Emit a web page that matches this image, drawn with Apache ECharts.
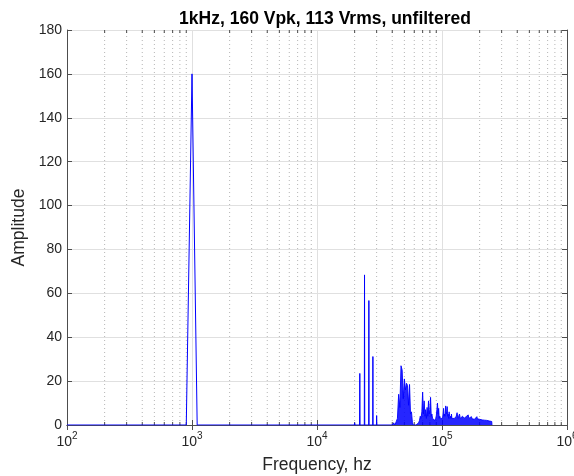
<!DOCTYPE html>
<html>
<head>
<meta charset="utf-8">
<script src="https://cdn.jsdelivr.net/npm/echarts@6/dist/echarts.min.js"></script>
<style>
html,body{margin:0;padding:0;background:#fff;overflow:hidden;}
#chart{width:574px;height:476px;}
</style>
</head>
<body>
<div id="chart"></div>
<script>
// ---- data ----
const titleText = '1kHz, 160 Vpk, 113 Vrms, unfiltered';
const xName = 'Frequency, hz';
const yName = 'Amplitude';
const xMin = 100, xMax = 1000000;
const yMin = 0, yMax = 180, yStep = 20;
const minorMultipliers = [2, 3, 4, 5, 6, 7, 8, 9];
const decades = [100, 1000, 10000, 100000];

const binHz = 100;              // FFT bin width
const startHz = 100;
// fundamental
const fundFreqs = [900, 1000, 1100];
const fundAmps  = [0, 160, 0];
// first carrier group (isolated spikes)
const sb1Freqs = [20000, 22000, 24000, 26000, 28000, 30000];
const sb1Amps  = [1, 23.5, 68.4, 56.7, 31.2, 4.3];
// dense high-frequency region, 1 kHz bins from 40 kHz to 125 kHz
const hfAStartK = 40, hfAStepK = 1;
const hfAmpsA = [
  0, 1, 0, 1.5, 3, 14, 8, 27, 25, 12,
  21, 16, 19, 18, 9, 18.5, 5, 6, 1, 0,
  0, 0, 0, 0, 0, 1, 2, 4, 3, 6,
  15, 5, 11, 4, 7, 3, 8, 4, 11, 5,
  7, 12.6, 4, 5, 3, 3.8, 3, 3.8, 2, 3,
  4, 7, 10, 5, 7.6, 3, 4, 3, 2.5, 3,
  2.5, 3, 5, 7.6, 4, 5, 4, 8.7, 5, 6,
  8.4, 4, 5, 3, 6, 4, 3, 4, 3, 5,
  3, 3, 2.5, 3.8, 2.5, 2.5
];
// 2 kHz bins from 126 kHz to 250 kHz
const hfBStartK = 126, hfBStepK = 2;
const hfAmpsB = [
  3, 2.5, 4, 5.6, 3, 4, 5, 3, 3.5, 2.5,
  4, 4.6, 3, 3.5, 2.5, 3.8, 3, 4, 4.6, 3,
  3.4, 2.6, 3.5, 3.8, 2.8, 3.3, 2.5, 3.4, 2.6, 3.2,
  3.5, 2.6, 3.8, 2.8, 3, 2.4, 3.2, 2.6, 2.9, 2.2,
  2.8, 3, 2.3, 2.6, 2.1, 2.7, 2.2, 2.5, 2, 2.4,
  2.6, 2.1, 2.4, 1.9, 2.3, 2, 2.2, 1.8, 2.1, 2.3,
  1.9, 2, 1.6
];
const endHz = 251000;

// ---- build series data ----
const mainData = [[startHz, 0]];
fundFreqs.forEach((f, i) => mainData.push([f, fundAmps[i]]));
sb1Freqs.forEach((f, i) => {
  mainData.push([f - binHz, 0]);
  mainData.push([f, sb1Amps[i]]);
  mainData.push([f + binHz, 0]);
});
mainData.push([hfAStartK * 1000, 0]);

const hfData = [];
hfAmpsA.forEach((a, i) => hfData.push([(hfAStartK + i * hfAStepK) * 1000, a]));
hfAmpsB.forEach((a, i) => hfData.push([(hfBStartK + i * hfBStepK) * 1000, a]));
hfData.push([endHz, 0]);

const minorData = [];
decades.forEach(d => minorMultipliers.forEach(m => minorData.push([d * m, 0])));

// ---- styles ----
const FONT = 'Liberation Sans, Arial, Helvetica, sans-serif';
const axisColor = '#4d4d4d';
const textColor = '#262626';
const gridColor = '#e0e0e0';
const lineBlue = '#0000ff';

const chart = echarts.init(document.getElementById('chart'), null, {renderer: 'canvas'});

const supFormatter = v => {
  const e = Math.round(Math.log10(v));
  return '{b|10}{e|' + e + '}';
};

const option = {
  animation: false,
  backgroundColor: '#fff',
  title: {
    text: titleText,
    left: 320, top: 5, textAlign: 'center',
    textStyle: {fontFamily: FONT, fontSize: 17.5, fontWeight: 'bold', color: '#000'}
  },
  grid: {left: 67, right: 7, top: 30, bottom: 51, containLabel: false, outerBoundsMode: 'none'},
  xAxis: [
    {
      type: 'log', logBase: 10, min: xMin, max: xMax, position: 'bottom',
      name: xName, nameLocation: 'middle', nameGap: 31,
      nameTextStyle: {fontFamily: FONT, fontSize: 17.5, color: textColor},
      axisLine: {show: true, lineStyle: {color: axisColor, width: 1}},
      axisTick: {show: true, inside: true, length: 5, lineStyle: {color: axisColor}},
      splitLine: {show: true, lineStyle: {color: gridColor, width: 1}},
      axisLabel: {
        margin: 6, formatter: supFormatter, hideOverlap: false,
        rich: {
          b: {fontFamily: FONT, fontSize: 14, color: textColor, lineHeight: 18, verticalAlign: 'bottom'},
          e: {fontFamily: FONT, fontSize: 10, color: textColor, lineHeight: 18, verticalAlign: 'top'}
        }
      }
    },
    {
      type: 'log', logBase: 10, min: xMin, max: xMax, position: 'top',
      axisLine: {show: true, lineStyle: {color: axisColor, width: 1}},
      axisTick: {show: true, inside: true, length: 5, lineStyle: {color: axisColor}},
      splitLine: {show: false}, axisLabel: {show: false}
    }
  ],
  yAxis: [
    {
      type: 'value', min: yMin, max: yMax, interval: yStep, position: 'left',
      name: yName, nameLocation: 'middle', nameGap: 30, nameRotate: 90,
      nameTextStyle: {fontFamily: FONT, fontSize: 17.5, color: textColor},
      axisLine: {show: true, lineStyle: {color: axisColor, width: 1}},
      axisTick: {show: true, inside: true, length: 5, lineStyle: {color: axisColor}},
      splitLine: {show: true, lineStyle: {color: gridColor, width: 1}},
      axisLabel: {margin: 5, fontFamily: FONT, fontSize: 14, color: textColor}
    },
    {
      type: 'value', min: yMin, max: yMax, interval: yStep, position: 'right',
      axisLine: {show: true, lineStyle: {color: axisColor, width: 1}},
      axisTick: {show: true, inside: true, length: 5, lineStyle: {color: axisColor}},
      splitLine: {show: false}, axisLabel: {show: false}
    }
  ],
  series: [
    {
      type: 'custom', xAxisIndex: 0, yAxisIndex: 0, z: 1, silent: true,
      data: minorData,
      renderItem: (params, api) => {
        const f = api.value(0);
        const p0 = api.coord([f, yMin]);
        const p1 = api.coord([f, yMax]);
        return {
          type: 'group',
          children: [
            {type: 'line', shape: {x1: p0[0], y1: p0[1], x2: p1[0], y2: p1[1]},
             style: {stroke: '#b5b5b5', lineWidth: 1, lineDash: [1, 3]}},
            {type: 'line', shape: {x1: p0[0], y1: p0[1], x2: p0[0], y2: p0[1] - 3},
             style: {stroke: axisColor, lineWidth: 1}},
            {type: 'line', shape: {x1: p1[0], y1: p1[1], x2: p1[0], y2: p1[1] + 3},
             style: {stroke: axisColor, lineWidth: 1}}
          ]
        };
      }
    },
    {
      type: 'line', xAxisIndex: 0, yAxisIndex: 0, z: 3,
      data: mainData, showSymbol: false, symbol: 'none',
      lineStyle: {color: lineBlue, width: 1}
    },
    {
      type: 'line', xAxisIndex: 0, yAxisIndex: 0, z: 3,
      data: hfData, showSymbol: false, symbol: 'none',
      lineStyle: {color: lineBlue, width: 0.9},
      areaStyle: {color: lineBlue, opacity: 0.85}
    }
  ]
};
chart.setOption(option);
</script>
</body>
</html>
